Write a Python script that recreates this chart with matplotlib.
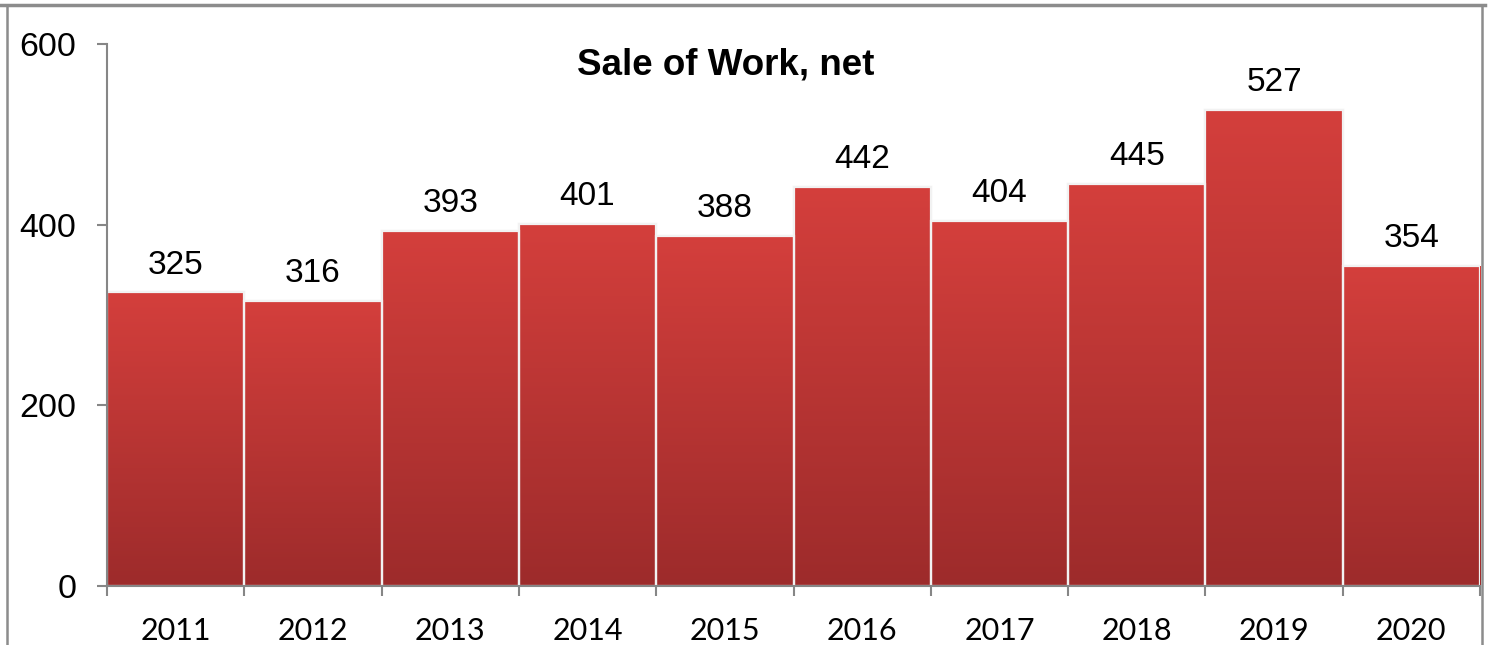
import numpy as np
import matplotlib.pyplot as plt
from matplotlib.colors import LinearSegmentedColormap
from matplotlib.lines import Line2D

years = ['2011', '2012', '2013', '2014', '2015', '2016', '2017', '2018', '2019', '2020']
values = [325, 316, 393, 401, 388, 442, 404, 445, 527, 354]
yticks = [0, 200, 400, 600]

fig = plt.figure(figsize=(14.91, 6.45), dpi=100)
ax = fig.add_axes([107 / 1491, 1 - 586 / 645, 1373 / 1491, 542 / 645])

x = np.arange(len(years))
bars = ax.bar(x, values, width=1.0, color='#c03634', edgecolor='#f2f2f2', linewidth=1.6, zorder=2)

# vertical gradient inside each bar (lighter on top)
cmap = LinearSegmentedColormap.from_list('redgrad', ['#9d2b2b', '#d43f3c'])
grad = np.linspace(0, 1, 256).reshape(-1, 1)
for b in bars:
    x0, y0 = b.get_x(), b.get_y()
    w, h = b.get_width(), b.get_height()
    im = ax.imshow(grad, cmap=cmap, origin='lower', aspect='auto',
                   extent=[x0, x0 + w, y0, y0 + h], zorder=2.5)
    im.set_clip_path(b)
    ax.bar(x0 + w / 2, h, width=w, fill=False, edgecolor='#f2f2f2', linewidth=1.6, zorder=3)

for xi, v in zip(x, values):
    ax.annotate(str(v), (xi, v), xytext=(0, 13.5), textcoords='offset points',
                ha='center', va='baseline', fontsize=24, family='Liberation Sans')

ax.set_xlim(-0.5, len(years) - 0.5)
ax.set_ylim(0, 600)
ax.set_yticks(yticks)
ax.set_yticklabels([str(t) for t in yticks], family='Liberation Sans', fontsize=24.5)

# tick marks between categories, labels centred under bars
ax.set_xticks(np.arange(-0.5, len(years)), minor=False)
ax.set_xticklabels([])
ax.set_xticks(x, minor=True)
ax.set_xticklabels(years, minor=True, family='Lato', fontsize=22)
ax.tick_params(axis='x', which='major', length=7, width=1.5, color='#868686', direction='out')
ax.tick_params(axis='x', which='minor', length=0, pad=22)
ax.tick_params(axis='y', length=7, width=1.5, color='#868686', direction='out', pad=15)

for s in ['top', 'right']:
    ax.spines[s].set_visible(False)
for s in ['left', 'bottom']:
    ax.spines[s].set_color('#868686')
    ax.spines[s].set_linewidth(1.5)
    ax.spines[s].set_zorder(4)

ax.text(0.4508, 0.943, 'Sale of Work, net', transform=ax.transAxes, ha='center',
        va='baseline', fontsize=26.5, fontweight='bold', family='Liberation Sans')

# outer frame of the chart area
W, H = 1491, 645
fig.add_artist(Line2D([0, 1485 / W], [1 - 4.5 / H] * 2, transform=fig.transFigure, color='#8c8c8c', lw=2.5))
fig.add_artist(Line2D([7 / W] * 2, [0, 1 - 4.5 / H], transform=fig.transFigure, color='#8c8c8c', lw=1.8))
fig.add_artist(Line2D([1482 / W] * 2, [0, 1 - 4.5 / H], transform=fig.transFigure, color='#8c8c8c', lw=1.8))

fig.savefig('out.png', dpi=100)
